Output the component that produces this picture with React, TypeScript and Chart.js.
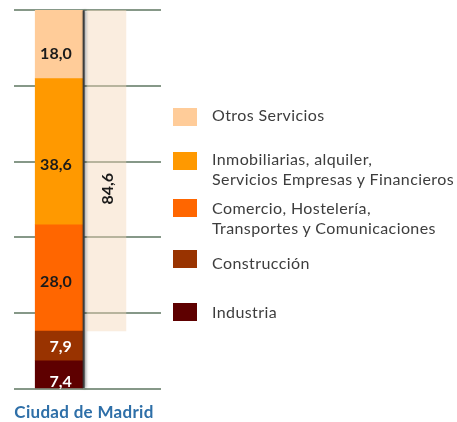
import React, { useEffect, useRef } from "react";
import { Chart, registerables } from "chart.js";

Chart.register(...registerables);

const categoryLabel = "Ciudad de Madrid";
const sectors = ["Industria", "Construcción", "Comercio, Hostelería,\nTransportes y Comunicaciones", "Inmobiliarias, alquiler,\nServicios Empresas y Financieros", "Otros Servicios"];
const sectorValues = [7.4, 7.9, 28.0, 38.6, 18.0];
const sectorColors = ["#5e0000", "#993300", "#ff6600", "#ff9900", "#ffcc99"];
const labelColors = ["#ffffff", "#ffffff", "#1a1a1a", "#1a1a1a", "#1a1a1a"];
const servicesStart = 15.3;
const servicesEnd = 99.9;
const servicesTotal = 84.6;
const yTicks = [0, 20, 40, 60, 80, 100];

const fmt = (v: number) => v.toFixed(1).replace(".", ",");

const labelPlugin = {
  id: "labels",
  afterDatasetsDraw(chart: any) {
    const ctx = chart.ctx;
    ctx.save();
    const firstMeta = chart.getDatasetMeta(0);
    const lastMeta = chart.getDatasetMeta(sectorValues.length - 1);
    const b0 = firstMeta.data[0] as any;
    const bl = lastMeta.data[0] as any;
    const right = b0.x + b0.width / 2;
    ctx.shadowColor = "rgba(0,0,0,0.55)";
    ctx.shadowBlur = 3;
    ctx.shadowOffsetX = 1;
    ctx.fillStyle = "#3c3c3c";
    ctx.fillRect(right, bl.y, 2, b0.base - bl.y);
    ctx.restore();

    ctx.save();
    ctx.font = "bold 16px Lato";
    ctx.textBaseline = "middle";
    ctx.textAlign = "right";
    const labelShift = [7, 1, 4, 13, 9];
    sectorValues.forEach((v, i) => {
      const el = chart.getDatasetMeta(i).data[0] as any;
      const cy = (el.y + el.base) / 2 + labelShift[i];
      ctx.fillStyle = labelColors[i];
      ctx.fillText(fmt(v), el.x + el.width / 2 - 11, cy);
    });
    const tel = chart.getDatasetMeta(sectorValues.length).data[0] as any;
    ctx.save();
    ctx.translate(tel.x + 1, (tel.y + tel.base) / 2 + 18);
    ctx.rotate(-Math.PI / 2);
    ctx.textAlign = "center";
    ctx.fillStyle = "#1a1a1a";
    ctx.fillText(fmt(servicesTotal), 0, 0);
    ctx.restore();
    ctx.restore();
  },
};

export default function App() {
  const ref = useRef<HTMLCanvasElement>(null);
  useEffect(() => {
    if (!ref.current) return;
    const datasets: any[] = sectorValues.map((v, i) => ({
      label: sectors[i],
      data: [{ x: 1, y: v }],
      backgroundColor: sectorColors[i],
      borderWidth: 0,
      stack: "sectors",
      maxBarThickness: 48,
    }));
    datasets.push({
      label: "Servicios",
      data: [{ x: 2, y: [servicesStart, servicesEnd] }],
      backgroundColor: "rgba(245,215,185,0.45)",
      borderWidth: 0,
      stack: "services",
      maxBarThickness: 39,
    });
    const chart = new Chart(ref.current, {
      type: "bar",
      data: { datasets },
      options: {
        animation: false,
        responsive: false,
        maintainAspectRatio: false,
        layout: { padding: { left: 14, top: 10, right: 296, bottom: 33 } },
        datasets: { bar: { grouped: false, categoryPercentage: 1, barPercentage: 1 } } as any,
        plugins: { legend: { display: false }, tooltip: { enabled: false } },
        scales: {
          x: {
            type: "linear",
            display: false,
            offset: false,
            min: 0.053,
            max: 3.15,
            stacked: true,
          },
          y: {
            stacked: true,
            min: yTicks[0],
            max: yTicks[yTicks.length - 1],
            ticks: { display: false, stepSize: 20 },
            border: { display: false },
            grid: { color: "#869888", lineWidth: 2, drawTicks: false },
          },
        },
      },
      plugins: [labelPlugin],
    });
    return () => chart.destroy();
  }, []);

  const legendOrder = [4, 3, 2, 1, 0];
  const swatchTops = [108, 152, 199, 250, 303];
  const textTops = [105, 149, 198, 253, 302];

  return (
    <div style={{ position: "fixed", left: 0, top: 0, width: 457, height: 422, background: "#fff" }}>
      <canvas ref={ref} width={457} height={422} style={{ position: "absolute", left: 0, top: 0 }} />
      {legendOrder.map((idx, k) => (
        <React.Fragment key={idx}>
          <div
            style={{
              position: "absolute",
              left: 173,
              top: swatchTops[k],
              width: 24,
              height: 18,
              background: sectorColors[idx],
            }}
          />
          <div
            style={{
              position: "absolute",
              left: 212,
              top: textTops[k],
              font: "16px Lato",
              letterSpacing: "0.4px",
              lineHeight: "20px",
              color: "#3d3d3d",
              whiteSpace: "pre",
            }}
          >
            {sectors[idx]}
          </div>
        </React.Fragment>
      ))}
      <div
        style={{
          position: "absolute",
          left: 0,
          width: 168,
          top: 402,
          textAlign: "center",
          font: "bold 17px Lato",
          letterSpacing: "0.3px",
          lineHeight: "20px",
          color: "#2e6fa8",
        }}
      >
        {categoryLabel}
      </div>
    </div>
  );
}
